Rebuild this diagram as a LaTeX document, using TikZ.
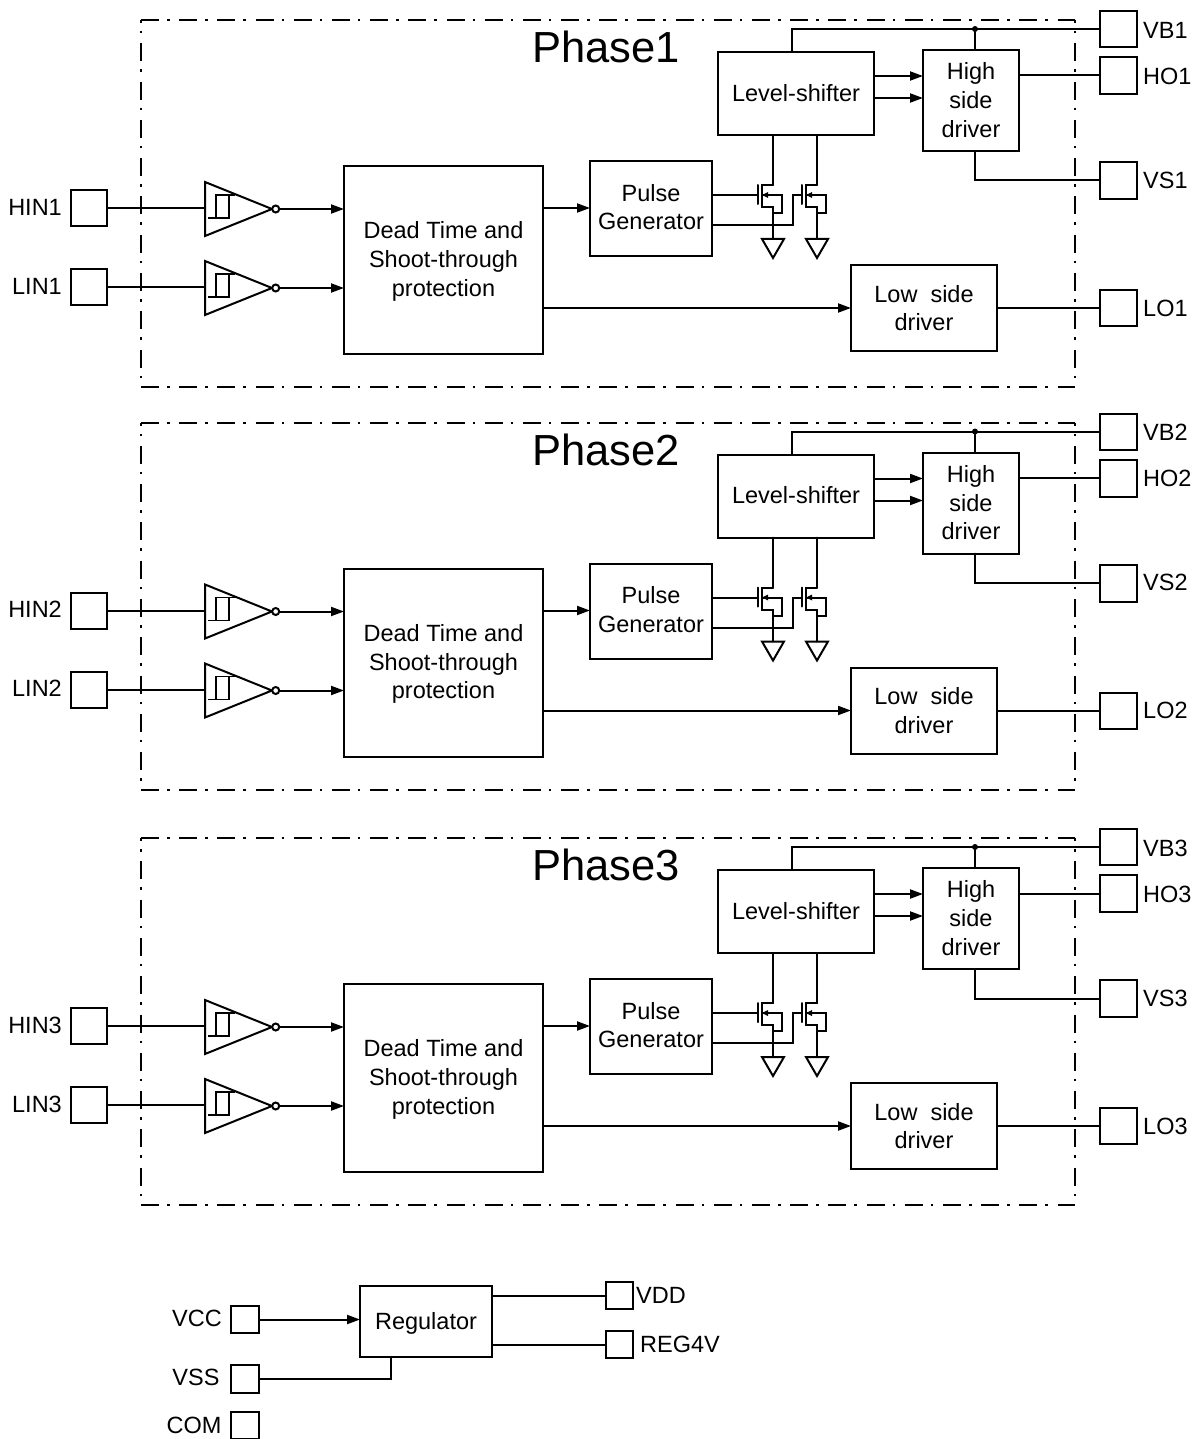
\documentclass[tikz,border=0pt]{standalone}
\usepackage{fontspec}
\setmainfont{Liberation Sans}
\usetikzlibrary{arrows.meta,calc}
\tikzset{
  wire/.style={line width=2pt,line cap=round,line join=miter},
  arr/.style={wire,-{Triangle[length=13pt,width=9pt]}},
  blk/.style={draw,line width=2pt,inner sep=0pt,outer sep=0pt,align=center,font=\fontsize{23.5}{28.6}\selectfont},
  lbl/.style={inner sep=0pt,font=\fontsize{23.5}{28.6}\selectfont},
  phasetitle/.style={inner sep=0pt,font=\fontsize{43.5}{50}\selectfont},
  frameh/.style={line width=2pt,dash pattern=on 18pt off 8pt on 2.5pt off 9.69pt},
  framev/.style={line width=2pt,dash pattern=on 18pt off 8pt on 2.5pt off 9.8pt,dash phase=15pt},
  bubble/.style={circle,draw,line width=2pt,minimum size=7pt,inner sep=0pt,outer sep=0pt,fill=white},
  dotj/.style={circle,fill,minimum size=6pt,inner sep=0pt,outer sep=0pt},
  gnd/.style={wire,line join=miter},
}
% name, x1, y1, x2, y2, text
\newcommand{\blkat}[6]{\node[blk,minimum width={(#4-#2)*1pt},minimum height={(#5-#3)*1pt}] (#1) at ({(#2+#4)/2},{(#3+#5)/2}) {#6};}
\newcommand{\topfix}[1]{\rule{0pt}{#1pt}}
\newcommand{\botfix}[1]{\rule[-#1pt]{0pt}{1pt}}
% suffix, top y
\newcommand{\invat}[2]{%
  \draw[wire] (205,#2) coordinate (il#1) -- (205,{#2+54}) -- (272,{#2+27}) coordinate (it#1) -- cycle;
  \draw[line width=1.6pt] (208,{#2+36}) -- (229,{#2+36}) -- (229,{#2+13}) (216,{#2+36}) -- (216,{#2+13}) -- (235,{#2+13});
  \node[bubble] (ib#1) at (275.7,{#2+27}) {};
}
% suffix, drain x
\newcommand{\fetat}[2]{%
  \coordinate (dr#1) at (#2,185);
  \coordinate (gb#1) at ({#2-15},195);
  \draw[wire] (dr#1) -- ({#2-11},185) -- ({#2-11},207) -- (#2,207) -- (#2,239) coordinate (sr#1);
  \draw[wire] ({#2-15},185) -- ({#2-15},204);
  \draw[wire] ({#2-11},195) -- ({#2+9},195) -- ({#2+9},213) -- (#2,213);
  \fill ({#2-11},195) -- ({#2-5},192) -- ({#2-5},198) -- cycle;
  \draw[gnd] ({#2-11},239) -- ({#2+11},239) -- (#2,258) -- cycle;
}
\begin{document}
\begin{tikzpicture}[x=1pt,y=-1pt]
\useasboundingbox (0,0) rectangle (1201,1439);
\foreach \n/\dy in {1/0,2/402.5,3/818}{
\begin{scope}[shift={(0,\dy)}]
  \draw[frameh] (141,20) -- (1075,20);
  \draw[frameh] (141,387) -- (1075,387);
  \draw[framev] (141,20) -- (141,387);
  \draw[framev] (1075,20) -- (1075,387);
  \node[phasetitle] (title\n) at (606,47) {Phase\n};
  \blkat{hinp\n}{71}{190}{107}{226}{}
  \blkat{linp\n}{71}{269}{107}{305}{}
  \node[lbl,anchor=east] (hinl\n) at (62,207) {HIN\n};
  \node[lbl,anchor=east] (linl\n) at (62,286) {LIN\n};
  \invat{a\n}{182}
  \invat{b\n}{261}
  \blkat{dead\n}{344}{166}{543}{354}{\topfix{20}Dead Time and\\Shoot-through\\protection}
  \blkat{pulse\n}{590}{161}{712}{256}{Pulse\\Generator\botfix{3}}
  \blkat{shift\n}{718}{52}{874}{135}{Level-shifter\botfix{2}}
  \blkat{high\n}{923}{50}{1019}{151}{High\\side\\driver\botfix{1}}
  \blkat{low\n}{851}{265}{997}{351}{Low\;\;side\\driver}
  \blkat{vb\n}{1100}{11}{1137}{47}{}
  \blkat{ho\n}{1100}{57}{1137}{94}{}
  \blkat{vs\n}{1100}{162}{1137}{199}{}
  \blkat{lo\n}{1100}{290}{1137}{326}{}
  \node[lbl,anchor=west] (vbl\n) at (1143,30) {VB\n};
  \node[lbl,anchor=west] (hol\n) at (1143,76) {HO\n};
  \node[lbl,anchor=west] (vsl\n) at (1143,180) {VS\n};
  \node[lbl,anchor=west] (lol\n) at (1143,308) {LO\n};
  \draw[wire] (hinp\n.east) -- (ila\n |- hinp\n);
  \draw[wire] (linp\n.east) -- (ilb\n |- linp\n);
  \draw[arr] (iba\n.east) -- (dead\n.west |- iba\n);
  \draw[arr] (ibb\n.east) -- (dead\n.west |- ibb\n);
  \draw[arr] (dead\n.east |- 0,208) -- (pulse\n.west |- 0,208);
  \draw[arr] (dead\n.east |- low\n) -- (low\n.west);
  \draw[wire] (low\n.east) -- (lo\n.west |- low\n);
  \draw[wire] (shift\n.north -| 792,0) -- (792,29) -- (vb\n.west);
  \node[dotj] (jn\n) at (975,29) {};
  \draw[wire] (jn\n) -- (high\n.north -| jn\n);
  \draw[arr] (shift\n.east |- 0,76) -- (high\n.west |- 0,76);
  \draw[arr] (shift\n.east |- 0,98) -- (high\n.west |- 0,98);
  \draw[wire] (high\n.east |- ho\n) -- (ho\n.west);
  \draw[wire] (high\n.south -| jn\n) -- (jn\n |- vs\n) -- (vs\n.west);
  \fetat{p\n}{773}
  \fetat{q\n}{817}
  \draw[wire] (shift\n.south -| drp\n) -- (drp\n);
  \draw[wire] (shift\n.south -| drq\n) -- (drq\n);
  \draw[wire] (pulse\n.east |- gbp\n) -- (gbp\n);
  \draw[wire] (pulse\n.east |- 0,225) -- (793,225) -- (793,195) -- (gbq\n);
\end{scope}
}
\blkat{reg}{360}{1286}{492}{1357}{\topfix{21}Regulator}
\blkat{vcc}{231}{1306}{259}{1333}{}
\blkat{vss}{231}{1365}{259}{1393}{}
\blkat{com}{231}{1412}{259}{1439}{}
\blkat{vdd}{606}{1282}{633}{1309}{}
\blkat{rgv}{606}{1331}{633}{1358}{}
\node[lbl] (vccl) at (197,1318) {VCC};
\node[lbl] (vssl) at (196,1377) {VSS};
\node[lbl] (coml) at (194,1425) {COM};
\node[lbl,anchor=west] (vddl) at (636,1295) {VDD};
\node[lbl,anchor=west] (rgvl) at (640,1344) {REG4V};
\draw[arr] (vcc.east) -- (reg.west |- vcc);
\draw[wire] (vss.east) -- (391,1379) -- (391,1357);
\draw[wire] (reg.east |- vdd) -- (vdd.west);
\draw[wire] (reg.east |- rgv) -- (rgv.west);
\end{tikzpicture}
\end{document}
